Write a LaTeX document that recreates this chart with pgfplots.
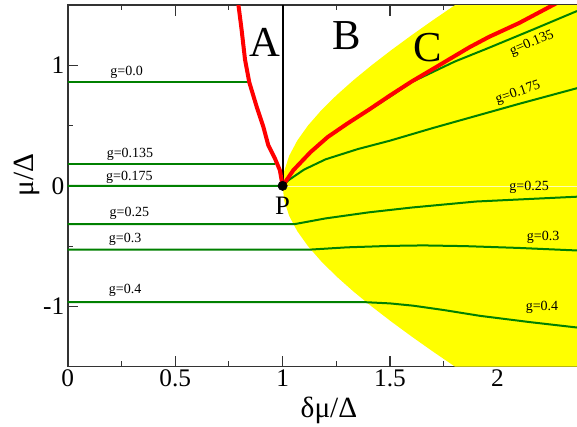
\documentclass[border=0pt]{standalone}
\usepackage{pgfplots}
\pgfplotsset{compat=1.18}
\usepackage{fontspec}
\setmainfont{Liberation Serif}
\definecolor{dgreen}{RGB}{0,128,0}
\definecolor{yel}{RGB}{255,255,0}
\begin{document}
\begin{tikzpicture}
\useasboundingbox (-50.8pt,-44.5pt) rectangle (382pt,275.05pt);
\begin{axis}[
  scale only axis, width=382pt, height=271.3pt,
  xmin=0, xmax=2.37, ymin=-1.5, ymax=1.5,
  xtick={0,0.5,1,1.5,2}, xticklabels={0,0.5,1,1.5,2},
  ytick={-1,0,1}, yticklabels={-1,0,1},
  minor xtick={0.25,0.75,1.25,1.75,2.25},
  minor ytick={-0.5,0.5},
  tick align=inside, major tick length=8pt, minor tick length=4pt,
  tick style={line width=0.9pt, black!80},
  axis line style={line width=1.2pt, black!80},
  /pgf/number format/assume math mode=true,
  ticklabel style={font=\fontsize{19}{19}\selectfont},
  xticklabel style={yshift=1pt},
  yticklabel style={xshift=1pt},
  xlabel={δμ/Δ}, ylabel={μ/Δ},
  label style={font=\fontsize{22}{22}\selectfont},
  xlabel style={at={(axis description cs:0.513,-0.12)}, anchor=center},
  ylabel style={at={(axis description cs:-0.08,0.53)}, anchor=center},
]
% yellow region right of hyperbola
\addplot[fill=yel, draw=none] coordinates {
 (1.8028,-1.5) (1.7002,-1.375) (1.6008,-1.25) (1.5052,-1.125) (1.4142,-1.0)
 (1.3288,-0.875) (1.25,-0.75) (1.1792,-0.625) (1.1180,-0.5) (1.0680,-0.375)
 (1.0308,-0.25) (1.0078,-0.125) (1,0) (1.0078,0.125) (1.0308,0.25)
 (1.0680,0.375) (1.1180,0.5) (1.1792,0.625) (1.25,0.75) (1.3288,0.875)
 (1.4142,1.0) (1.5052,1.125) (1.6008,1.25) (1.7002,1.375) (1.8028,1.5)
 (2.6,1.5) (2.6,-1.5)};
\addplot[white, opacity=0.7, line width=0.4pt] coordinates {(1,0) (2.6,0)};
% green trajectories
\addplot[dgreen, line width=1.5pt] coordinates {(0,0.858) (0.845,0.858)};
\addplot[dgreen, line width=1.5pt] coordinates {(0,0.181) (0.965,0.181)};
\addplot[dgreen, line width=1.5pt] coordinates {(1,0) (1.05,0.13) (1.13,0.28) (1.2,0.395) (1.3,0.515) (1.4,0.625) (1.5,0.74) (1.6,0.86) (1.7,0.945) (1.8,1.03) (1.96,1.145) (2.17,1.30) (2.37,1.45)};
\addplot[dgreen, line width=1.5pt] coordinates {(0,0) (1,0) (1.03,0.05) (1.1,0.135) (1.2,0.22) (1.35,0.305) (1.5,0.375) (1.7,0.48) (1.9,0.58) (2.1,0.68) (2.37,0.81)};
\addplot[dgreen, line width=1.5pt] coordinates {(0,-0.317) (1.057,-0.317) (1.2,-0.27) (1.4,-0.22) (1.6,-0.18) (1.9,-0.13) (2.37,-0.09)};
\addplot[dgreen, line width=1.5pt] coordinates {(0,-0.528) (1.135,-0.528) (1.3,-0.51) (1.5,-0.498) (1.654,-0.494) (1.85,-0.5) (2.1,-0.515) (2.37,-0.536)};
\addplot[dgreen, line width=1.5pt] coordinates {(0,-0.964) (1.375,-0.964) (1.5,-0.975) (1.608,-0.994) (1.75,-1.03) (1.918,-1.078) (2.15,-1.13) (2.37,-1.175)};
% black boundary
\addplot[black, line width=1.5pt] coordinates {(1,0) (1,1.5)};
% red boundaries
\addplot[red, line width=3pt, line join=round] coordinates {(0.793,1.52) (0.809,1.297) (0.825,1.048) (0.845,0.858) (0.879,0.658) (0.910,0.492) (0.933,0.339) (0.964,0.228) (0.987,0.131) (1.0,0.0)};
\addplot[red, line width=3pt, line join=round] coordinates {(1,0) (1.05,0.13) (1.13,0.28) (1.21,0.405) (1.3,0.515) (1.4,0.63) (1.5,0.75) (1.6,0.865) (1.7,0.97) (1.87,1.15) (1.96,1.235) (2.1,1.35) (2.28,1.52)};
\addplot[only marks, mark=*, mark size=3.5pt, black] coordinates {(1,0)};
% labels
\begin{scope}[every node/.style={font=\fontsize{10.5}{10.5}\selectfont, inner sep=0pt}]
\node at (axis cs:0.274,0.942) {g=0.0};
\node at (axis cs:0.29,0.264) {g=0.135};
\node at (axis cs:0.287,0.07) {g=0.175};
\node at (axis cs:0.287,-0.23) {g=0.25};
\node at (axis cs:0.267,-0.447) {g=0.3};
\node at (axis cs:0.267,-0.863) {g=0.4};
\node[rotate=23] at (axis cs:2.16,1.18) {g=0.135};
\node[rotate=19] at (axis cs:2.096,0.77) {g=0.175};
\node at (axis cs:2.147,-0.013) {g=0.25};
\node at (axis cs:2.212,-0.425) {g=0.3};
\node at (axis cs:2.207,-1.008) {g=0.4};
\end{scope}
\node[font=\fontsize{32}{32}\selectfont, inner sep=0pt] at (axis cs:0.919,1.19) {A};
\node[font=\fontsize{32}{32}\selectfont, inner sep=0pt] at (axis cs:1.30,1.25) {B};
\node[font=\fontsize{32}{32}\selectfont, inner sep=0pt] at (axis cs:1.676,1.147) {C};
\node[font=\fontsize{20}{20}\selectfont, inner sep=0pt] at (axis cs:1.0,-0.165) {P};
\end{axis}
\end{tikzpicture}
\end{document}
